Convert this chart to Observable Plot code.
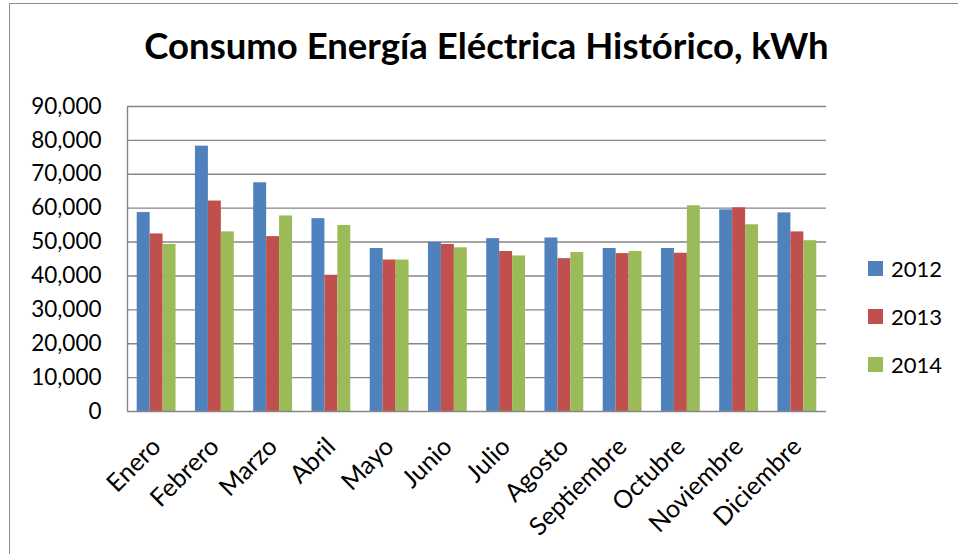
<!DOCTYPE html>
<html>
<head>
<meta charset="utf-8">
<script src="https://cdn.jsdelivr.net/npm/d3@7"></script>
<script src="https://cdn.jsdelivr.net/npm/@observablehq/plot@0.6"></script>
<style>
  html, body { margin: 0; padding: 0; background: #fff; }
  body { width: 958px; height: 554px; position: relative; overflow: hidden; font-family: Lato, "Noto Sans", sans-serif; }
  #frame { position: absolute; left: 9px; top: 3px; width: 960px; height: 560px; border-left: 1.5px solid #8c8c8c; border-top: 1.5px solid #8c8c8c; }
  #title { position: absolute; left: 0; width: 973px; top: 23.5px; text-align: center; font-weight: bold; font-size: 36.5px; line-height: 1.2; color: #000; white-space: nowrap; }
  #chart { position: absolute; left: 0; top: 0; }
  #legend { position: absolute; left: 868px; top: 244px; }
  .item { display: flex; align-items: center; height: 48.3px; font-size: 22px; color: #000; }
  .sw { width: 15px; height: 15px; margin-right: 8px; }
  #dbg { position: absolute; left: 20px; top: 480px; font-size: 11px; color: red; }
</style>
</head>
<body>
<div id="frame"></div>
<div id="title">Consumo Energía Eléctrica Histórico, kWh</div>
<div id="chart"></div>
<div id="legend"></div>
<div id="dbg"></div>
<script>
const months = ["Enero","Febrero","Marzo","Abril","Mayo","Junio","Julio","Agosto","Septiembre","Octubre","Noviembre","Diciembre"];
const years = ["2012","2013","2014"];
const colors = ["#4F81BD","#C0504D","#9BBB59"];
const v2012 = [58700,78300,67500,56900,48100,49900,51000,51200,48100,48100,59500,58600];
const v2013 = [52400,62100,51600,40200,44700,49300,47200,45100,46600,46700,60100,53000];
const v2014 = [49300,53000,57700,54900,44700,48300,45900,46900,47200,60700,55100,50400];
const yTicks = [0,10000,20000,30000,40000,50000,60000,70000,80000,90000];

const series = [v2012, v2013, v2014];
const groupWidth = 2 / 3;           // fraction of each category occupied by the three bars
const barWidth = groupWidth / years.length;
const table = [];
months.forEach((m, i) => {
  years.forEach((y, k) => {
    const left = i - groupWidth / 2 + k * barWidth;
    table.push({month: m, index: i, year: y, value: series[k][i], left, right: left + barWidth});
  });
});
const monthRows = months.map((m, i) => ({month: m, index: i}));

try {
  const fmt = d3.format(",");
  const plot = Plot.plot({
    width: 958,
    height: 554,
    marginLeft: 127,
    marginRight: 132,
    marginTop: 106,
    marginBottom: 143,
    style: {fontFamily: "Lato, 'Noto Sans', sans-serif", fontSize: "22px", color: "#000", background: "transparent"},
    x: {type: "linear", domain: [-0.5, months.length - 0.5], axis: null},
    y: {type: "linear", domain: [0, 90000], axis: null, label: null},
    color: {domain: years, range: colors},
    marks: [
      Plot.ruleY(yTicks.slice(1), {stroke: "#868686", strokeWidth: 1.4}),
      Plot.rect(table, {x1: "left", x2: "right", y1: 0, y2: "value", fill: "year"}),
      Plot.ruleX([-0.5], {stroke: "#868686", strokeWidth: 1.4}),
      Plot.ruleY([0], {stroke: "#868686", strokeWidth: 1.6}),
      Plot.axisY({ticks: yTicks, tickFormat: fmt, tickSize: 0, tickPadding: 26, fontSize: 22.5, fill: "#000", label: null}),
      Plot.text(monthRows, {x: "index", y: 0, text: "month", rotate: -45, textAnchor: "end", dx: 0, dy: 31, fontSize: 25, fill: "#000"})
    ]
  });
  document.getElementById("chart").appendChild(plot);
} catch (e) {
  document.getElementById("dbg").textContent = String(e);
}

const legend = document.getElementById("legend");
years.forEach((y, k) => {
  const item = document.createElement("div");
  item.className = "item";
  item.innerHTML = `<div class="sw" style="background:${colors[k]}"></div><span>${y}</span>`;
  legend.appendChild(item);
});
</script>
</body>
</html>
